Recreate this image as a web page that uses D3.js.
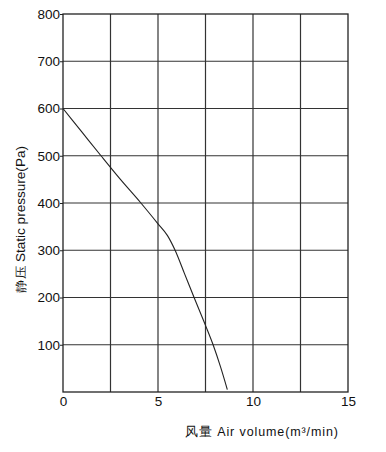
<!DOCTYPE html>
<html>
<head>
<meta charset="utf-8">
<script src="https://cdn.jsdelivr.net/npm/d3@7"></script>
<style>
  body { margin: 0; background: #fff; }
  svg text { font-family: "Liberation Sans", Arial, sans-serif; fill: #111; }
</style>
</head>
<body>
<div id="chart"></div>
<script>
// curve: air volume (m3/min) vs static pressure (Pa)
var airVolume = [0, 1, 2, 3, 4.1, 5, 5.5, 5.9, 6.4, 6.9, 7.5, 7.9, 8.3, 8.65];
var pressure  = [600, 550, 500, 451, 400, 356, 331, 300, 250, 200, 141, 100, 52, 5];
var xTicks = [0, 5, 10, 15];
var xGrid = [2.5, 5, 7.5, 10, 12.5];
var yTicks = [0, 100, 200, 300, 400, 500, 600, 700, 800];

var svgWidth = 386, svgHeight = 452;
var margin = {top: 14, right: 38, bottom: 60, left: 63};
var width = 348 - margin.left;
var height = 392 - margin.top;

var svg = d3.select("#chart").append("svg")
  .attr("width", svgWidth)
  .attr("height", svgHeight);

var g = svg.append("g")
  .attr("transform", `translate(${margin.left}, ${margin.top})`);

var x = d3.scaleLinear().domain([0, 15]).range([0, width]);
var y = d3.scaleLinear().domain([0, 800]).range([height, 0]);

// grid
g.selectAll(".vgrid").data(xGrid).enter().append("line")
  .attr("x1", d => x(d)).attr("x2", d => x(d))
  .attr("y1", 0).attr("y2", height)
  .attr("stroke", "#333").attr("stroke-width", 1.2);

g.selectAll(".hgrid").data(yTicks.slice(1, -1)).enter().append("line")
  .attr("x1", 0).attr("x2", width)
  .attr("y1", d => y(d)).attr("y2", d => y(d))
  .attr("stroke", "#333").attr("stroke-width", 1.2);

// frame
g.append("rect")
  .attr("width", width).attr("height", height)
  .attr("fill", "none").attr("stroke", "#222").attr("stroke-width", 1.3);

// axes
var yAxis = g.append("g")
  .call(d3.axisLeft(y).tickValues(yTicks.slice(1)).tickSize(3).tickPadding(0));
yAxis.select(".domain").remove();
yAxis.selectAll("line").attr("stroke", "#222");
yAxis.selectAll("text").attr("font-size", 13.5).attr("fill", "#111")
  .attr("font-family", "Liberation Sans, Arial, sans-serif");

var xAxis = g.append("g")
  .attr("transform", `translate(0, ${height})`)
  .call(d3.axisBottom(x).tickValues(xTicks).tickSize(0).tickPadding(4));
xAxis.select(".domain").remove();
xAxis.selectAll("text").attr("font-size", 13.5).attr("fill", "#111")
  .attr("font-family", "Liberation Sans, Arial, sans-serif");

// curve
var line = d3.line()
  .x((d, i) => x(airVolume[i]))
  .y(d => y(d))
  .curve(d3.curveMonotoneX);

g.append("path")
  .datum(pressure)
  .attr("d", line)
  .attr("fill", "none")
  .attr("stroke", "#222")
  .attr("stroke-width", 1.1);

// axis titles
svg.append("text")
  .attr("transform", "translate(25, 219.5) rotate(-90)")
  .attr("text-anchor", "middle")
  .attr("font-size", 12)
  .attr("textLength", 147)
  .attr("lengthAdjust", "spacingAndGlyphs")
  .text("静压 Static pressure(Pa)");

svg.append("text")
  .attr("x", 261.5).attr("y", 436)
  .attr("text-anchor", "middle")
  .attr("font-size", 12.5)
  .attr("textLength", 153)
  .attr("lengthAdjust", "spacing")
  .text("风量 Air volume(m³/min)");
</script>
</body>
</html>
